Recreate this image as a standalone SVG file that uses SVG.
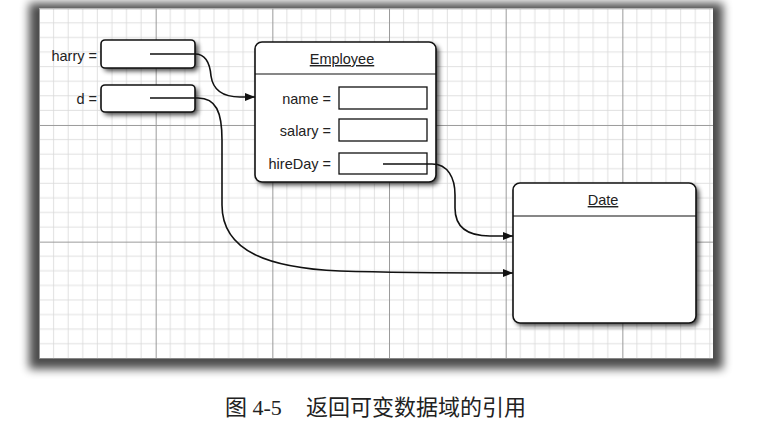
<svg xmlns="http://www.w3.org/2000/svg" width="761" height="429" viewBox="0 0 761 429">
<style>
.lbl{font-family:"Liberation Sans",Arial,sans-serif;font-size:14.5px;fill:#222}
.ttl{font-family:"Liberation Sans",Arial,sans-serif;font-size:14.5px;fill:#222;text-decoration:underline}
.box{fill:#fff;stroke:#111;stroke-width:1.6}
.fld{fill:#fff;stroke:#111;stroke-width:1.3}
.shd{fill:#000;opacity:0.75;filter:url(#blur)}
.con{fill:none;stroke:#111;stroke-width:1.6}
.minor{stroke:#d8d8d8;stroke-width:0.8}
.major{stroke:#9a9a9a;stroke-width:1}
.cap{font-family:"Liberation Serif","Noto Sans CJK SC",serif;font-size:22px;fill:#222}
</style>
<defs>
<filter id="blur" x="-20%" y="-20%" width="140%" height="140%"><feGaussianBlur stdDeviation="2.5"/></filter>
<filter id="pblur" x="-10%" y="-10%" width="120%" height="120%"><feGaussianBlur stdDeviation="5"/></filter>
<pattern id="grid" x="39" y="8.3" width="116.67" height="116.67" patternUnits="userSpaceOnUse">
<g class="minor">
<line x1="14.58" y1="0" x2="14.58" y2="116.67"/><line x1="29.17" y1="0" x2="29.17" y2="116.67"/><line x1="43.75" y1="0" x2="43.75" y2="116.67"/><line x1="58.33" y1="0" x2="58.33" y2="116.67"/><line x1="72.92" y1="0" x2="72.92" y2="116.67"/><line x1="87.5" y1="0" x2="87.5" y2="116.67"/><line x1="102.08" y1="0" x2="102.08" y2="116.67"/>
<line y1="14.58" x1="0" y2="14.58" x2="116.67"/><line y1="29.17" x1="0" y2="29.17" x2="116.67"/><line y1="43.75" x1="0" y2="43.75" x2="116.67"/><line y1="58.33" x1="0" y2="58.33" x2="116.67"/><line y1="72.92" x1="0" y2="72.92" x2="116.67"/><line y1="87.5" x1="0" y2="87.5" x2="116.67"/><line y1="102.08" x1="0" y2="102.08" x2="116.67"/>
</g>
<g class="major"><line x1="0.5" y1="0" x2="0.5" y2="116.67"/><line x1="0" y1="0.5" x2="116.67" y2="0.5"/></g>
</pattern>
<marker id="arr" viewBox="0 0 10 8" refX="10" refY="4" markerWidth="10" markerHeight="8" markerUnits="userSpaceOnUse" orient="auto"><path d="M0,0 L10,4 L0,8 z" fill="#111"/></marker>
</defs>
<rect width="761" height="429" fill="#fff"/>
<g id="panel">
<rect x="29" y="3" width="694" height="366" fill="#000" opacity="0.7" filter="url(#pblur)"/>
<rect x="39" y="8.3" width="674" height="350" fill="#fff"/>
<rect x="39" y="8.3" width="674" height="350" fill="url(#grid)"/>
</g>
<g id="harry">
<rect class="shd" x="104" y="43" width="94" height="28" rx="4"/>
<rect class="box" x="101" y="40" width="94" height="28" rx="4"/>
<text class="lbl" x="97" y="61" text-anchor="end">harry =</text>
</g>
<g id="d">
<rect class="shd" x="104" y="88" width="94" height="27" rx="4"/>
<rect class="box" x="101" y="85" width="94" height="27" rx="4"/>
<text class="lbl" x="97" y="104" text-anchor="end">d =</text>
</g>
<g id="employee">
<rect class="shd" x="258" y="45" width="181" height="140" rx="7"/>
<rect class="box" x="255" y="42" width="181" height="140" rx="7"/>
<line x1="255" y1="74" x2="436" y2="74" stroke="#111" stroke-width="1.2"/>
<text class="ttl" x="342" y="64" text-anchor="middle">Employee</text>
<text class="lbl" x="331" y="104" text-anchor="end">name =</text>
<rect class="fld" x="339" y="87" width="88" height="22"/>
<text class="lbl" x="331" y="136" text-anchor="end">salary =</text>
<rect class="fld" x="339" y="119" width="88" height="22"/>
<text class="lbl" x="331" y="169" text-anchor="end">hireDay =</text>
<rect class="fld" x="339" y="153" width="88" height="21"/>
</g>
<g id="date">
<rect class="shd" x="516" y="186" width="183" height="140" rx="7"/>
<rect class="box" x="513" y="183" width="183" height="140" rx="7"/>
<line x1="513" y1="216" x2="696" y2="216" stroke="#111" stroke-width="1.2"/>
<text class="ttl" x="603" y="205" text-anchor="middle">Date</text>
</g>
<g id="connectors">
<path class="con" marker-end="url(#arr)" d="M150,54 L195,54 C206,54 210,64 211,76 C213,90 222,97 240,97 L255,97"/>
<path class="con" marker-end="url(#arr)" d="M150,98 L198,98 C216,98 222,112 222,140 L222,205 C222,252 270,268 340,271 C400,273 460,273 513,273"/>
<path class="con" marker-end="url(#arr)" d="M383,164 L432,164 C448,164 455,178 455,195 L455,208 C455,228 468,236 490,236 L513,236"/>
</g>
<g id="caption">
<text class="cap" x="225" y="415">图 4-5</text>
<text class="cap" x="306" y="415">返回可变数据域的引用</text>
</g>
</svg>
